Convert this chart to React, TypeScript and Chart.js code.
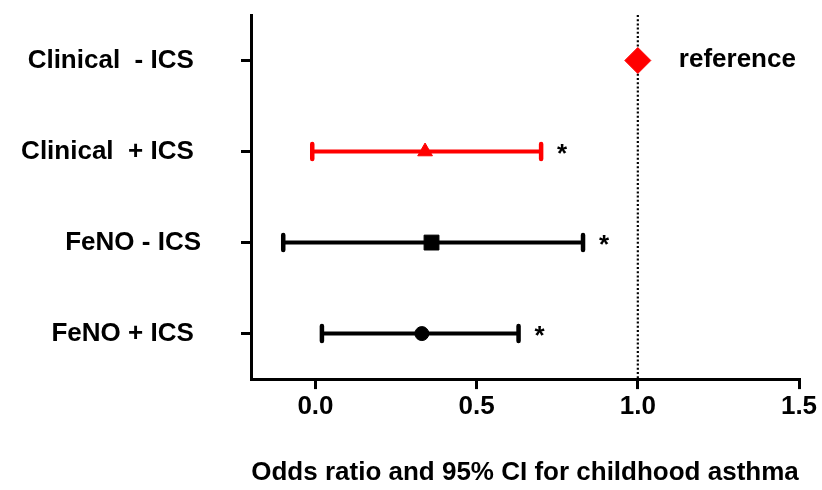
import React, { useEffect, useRef } from "react";
import { Chart, registerables } from "chart.js";

Chart.register(...registerables);

const categories = ["Clinical  - ICS ", "Clinical  + ICS ", "FeNO - ICS", "FeNO + ICS "];
const estimates = [1.0, 0.34, 0.36, 0.33];
const lowerCI: (number | null)[] = [null, -0.01, -0.1, 0.02];
const upperCI: (number | null)[] = [null, 0.7, 0.83, 0.63];
const significant = [false, true, true, true];
const pointShapes = ["rectRot", "triangle", "rect", "circle"];
const pointColors = ["#ff0000", "#ff0000", "#000000", "#000000"];
const pointSizes = [13, 8.5, 10.5, 7];
const referenceValue = 1.0;
const referenceLabel = "reference";
const xTickValues = [0, 0.5, 1.0, 1.5];
const xTitle = "Odds ratio and 95% CI for childhood asthma";

const FONT = '"Liberation Sans", Arial, Helvetica, sans-serif';
const FS = 26;

const forestPlugin = {
  id: "forest",
  beforeDatasetsDraw(chart: any) {
    const { ctx, scales, chartArea } = chart;
    const xs = scales.x;
    const ys = scales.y;
    ctx.save();
    const rx = xs.getPixelForValue(referenceValue);
    ctx.strokeStyle = "#000";
    ctx.lineWidth = 2.2;
    ctx.setLineDash([2, 2.2]);
    ctx.beginPath();
    ctx.moveTo(rx, chartArea.top);
    ctx.lineTo(rx, chartArea.bottom);
    ctx.stroke();
    ctx.setLineDash([]);
    for (let i = 0; i < categories.length; i++) {
      const lo = lowerCI[i];
      const hi = upperCI[i];
      if (lo === null || hi === null) continue;
      const y = ys.getPixelForValue(i + 1);
      const x1 = xs.getPixelForValue(lo);
      const x2 = xs.getPixelForValue(hi);
      ctx.strokeStyle = pointColors[i];
      ctx.lineWidth = 4;
      ctx.lineCap = "butt";
      ctx.beginPath();
      ctx.moveTo(x1, y);
      ctx.lineTo(x2, y);
      ctx.stroke();
      ctx.lineCap = "round";
      ctx.lineWidth = 4.5;
      ctx.beginPath();
      ctx.moveTo(x1, y - 7.5);
      ctx.lineTo(x1, y + 7.5);
      ctx.moveTo(x2, y - 7.5);
      ctx.lineTo(x2, y + 7.5);
      ctx.stroke();
    }
    ctx.restore();
  },
  afterDatasetsDraw(chart: any) {
    const { ctx, scales } = chart;
    const xs = scales.x;
    const ys = scales.y;
    ctx.save();
    ctx.fillStyle = "#000";
    ctx.font = `bold ${FS}px ${FONT}`;
    for (let i = 0; i < categories.length; i++) {
      const y = ys.getPixelForValue(i + 1);
      if (significant[i] && upperCI[i] !== null) {
        const x = xs.getPixelForValue(upperCI[i] as number) + 21;
        ctx.textAlign = "center";
        ctx.textBaseline = "alphabetic";
        ctx.fillText("*", x, y + 10);
      }
    }
    const ry = ys.getPixelForValue(1);
    ctx.textAlign = "left";
    ctx.textBaseline = "middle";
    ctx.fillText(referenceLabel, xs.getPixelForValue(referenceValue) + 41, ry - 1);
    ctx.restore();
  },
};

export default function App() {
  const ref = useRef<HTMLCanvasElement | null>(null);
  useEffect(() => {
    if (!ref.current) return;
    const chart = new Chart(ref.current, {
      type: "scatter",
      data: {
        datasets: [
          {
            data: estimates.map((v, i) => ({ x: v, y: i + 1 })),
            pointStyle: pointShapes as any,
            backgroundColor: pointColors,
            borderColor: pointColors,
            borderWidth: 1,
            pointRadius: pointSizes,
            pointHoverRadius: pointSizes,
          },
        ],
      },
      options: {
        animation: false,
        responsive: false,
        events: [],
        layout: { padding: { top: 15, right: 23, bottom: 1.4, left: 0 } },
        plugins: { legend: { display: false }, tooltip: { enabled: false } },
        scales: {
          x: {
            type: "linear",
            min: -0.2,
            max: 1.5,
            afterBuildTicks: (s: any) => {
              s.ticks = xTickValues.map((v) => ({ value: v }));
            },
            ticks: {
              callback: (v: any) => Number(v).toFixed(1),
              font: { family: FONT, size: FS, weight: "bold", lineHeight: 1.2 },
              color: "#000",
              padding: 1.9,
              maxRotation: 0,
            },
            grid: {
              drawOnChartArea: false,
              drawTicks: true,
              tickLength: 10,
              color: "#000",
              lineWidth: 3,
            },
            border: { display: true, color: "#000", width: 3 },
            title: {
              display: true,
              text: xTitle,
              font: { family: FONT, size: FS, weight: "bold", lineHeight: 1.2 },
              color: "#000",
              padding: { top: 33.3, bottom: 0 },
            },
          },
          y: {
            type: "linear",
            min: 0.5,
            max: 4.5,
            reverse: true,
            afterBuildTicks: (s: any) => {
              s.ticks = categories.map((_, i) => ({ value: i + 1 }));
            },
            afterFit: (s: any) => {
              s.width = 251;
              s.paddingTop = 0;
              s.paddingBottom = 0;
            },
            ticks: {
              callback: (v: any) => categories[Math.round(Number(v)) - 1],
              font: { family: FONT, size: FS, weight: "bold", lineHeight: 1.2 },
              color: "#000",
              padding: 40,
            },
            grid: {
              drawOnChartArea: false,
              drawTicks: true,
              tickLength: 10,
              color: "#000",
              lineWidth: 3,
            },
            border: { display: true, color: "#000", width: 3 },
          },
        },
      },
      plugins: [forestPlugin],
    });
    return () => chart.destroy();
  }, []);
  return (
    <div style={{ position: "absolute", left: 0, top: 0, width: 822, height: 490, background: "#fff" }}>
      <canvas ref={ref} width={822} height={490} />
    </div>
  );
}
